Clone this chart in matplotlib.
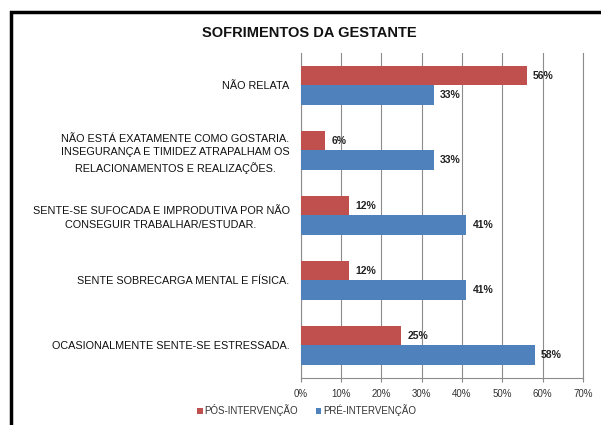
import numpy as np
import matplotlib.pyplot as plt
from matplotlib.patches import Rectangle

plt.rcParams['font.family'] = ['Liberation Sans', 'DejaVu Sans']

categorias = [
    "NÃO RELATA",
    "NÃO ESTÁ EXATAMENTE COMO GOSTARIA.\nINSEGURANÇA E TIMIDEZ ATRAPALHAM OS\nRELACIONAMENTOS E REALIZAÇÕES.",
    "SENTE-SE SUFOCADA E IMPRODUTIVA POR NÃO\nCONSEGUIR TRABALHAR/ESTUDAR.",
    "SENTE SOBRECARGA MENTAL E FÍSICA.",
    "OCASIONALMENTE SENTE-SE ESTRESSADA.",
]
pos_intervencao = [56, 6, 12, 12, 25]
pre_intervencao = [33, 33, 41, 41, 58]
ticks = [0, 10, 20, 30, 40, 50, 60, 70]

red = "#C0504D"
blue = "#4F81BD"

fig = plt.figure(figsize=(6.01, 4.25), dpi=100)
ax = fig.add_axes([0.5003, 0.1106, 0.4697, 0.7647])

y = np.arange(len(categorias))
h = 0.3
b1 = ax.barh(y - h/2, pos_intervencao, height=h, color=red, label="PÓS-INTERVENÇÃO", zorder=3)
b2 = ax.barh(y + h/2, pre_intervencao, height=h, color=blue, label="PRÉ-INTERVENÇÃO", zorder=3)

# value labels
for yy, v in zip(y - h/2, pos_intervencao):
    ax.text(v + 1.6, yy, f"{v}%", va="center", ha="left", fontsize=7.5, fontweight="bold", color="#222222")
for yy, v in zip(y + h/2, pre_intervencao):
    ax.text(v + 1.6, yy, f"{v}%", va="center", ha="left", fontsize=7.5, fontweight="bold", color="#222222")

ax.set_xlim(0, 70)
ax.set_ylim(len(categorias) - 0.5, -0.5)
ax.set_xticks(ticks)
ax.set_xticklabels([f"{t}%" for t in ticks], fontsize=7, color="#333333")
ax.set_yticks(y)
ax.set_yticklabels(categorias, fontsize=7.8, color="#111111", multialignment="center")
for lab in ax.get_yticklabels():
    lab.set_linespacing(1.45)
ax.tick_params(axis="y", length=0, pad=8)
ax.tick_params(axis="x", length=3, color="#888888", pad=5)
ax.grid(axis="x", color="#8c8c8c", linewidth=0.8, zorder=0)
for s in ["left", "bottom"]:
    ax.spines[s].set_color("#8c8c8c")
    ax.spines[s].set_linewidth(0.8)
ax.spines["top"].set_visible(False)
ax.spines["right"].set_color("#8c8c8c")
ax.spines["right"].set_linewidth(0.8)

fig.text(0.515, 0.923, "SOFRIMENTOS DA GESTANTE", ha="center", va="center", fontsize=10.5, fontweight="bold", color="#111111")

fig.legend(handles=[b1, b2], loc="center", bbox_to_anchor=(0.51, 0.035), ncol=2, frameon=False,
           fontsize=7, handlelength=0.6, handleheight=0.6, handletextpad=0.2, columnspacing=1.8,
           labelcolor="#333333")

# outer black frame (cropped on right and bottom)
fig.patches.append(Rectangle((11/601, -0.05), 1.1, 1 - 12/425 + 0.05, transform=fig.transFigure,
                             fill=False, edgecolor="black", linewidth=2.5))

fig.savefig("out.png", dpi=100)
